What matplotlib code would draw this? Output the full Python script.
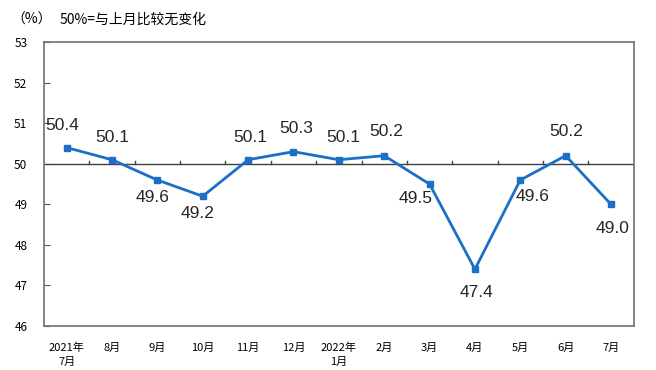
import matplotlib
matplotlib.use("Agg")
import matplotlib.pyplot as plt

plt.rcParams['font.family'] = ['Noto Sans CJK SC', 'DejaVu Sans']

categories = ["2021年\n7月", "8月", "9月", "10月", "11月", "12月", "2022年\n1月",
              "2月", "3月", "4月", "5月", "6月", "7月"]
values = [50.4, 50.1, 49.6, 49.2, 50.1, 50.3, 50.1, 50.2, 49.5, 47.4, 49.6, 50.2, 49.0]
label_offsets = [(-4, 22), (0, 22), (-5, -17), (-5, -17), (2, 22), (3, 23), (4, 22),
                 (2, 24), (-14, -14), (2, -23), (12, -16), (1, 24), (2, -24)]

fig = plt.figure(figsize=(6.56, 3.70), dpi=100)
ax = fig.add_axes([0.067, 0.119, 0.899, 0.767])

color = '#1a6fc6'
x = list(range(len(values)))
ax.plot(x, values, color=color, lw=2, marker='s', ms=5, zorder=3)
ax.axhline(50, color='#404040', lw=1, zorder=2)

for xi, v, (dx, dy) in zip(x, values, label_offsets):
    ax.annotate(f"{v:.1f}", (xi, v), xytext=(dx, dy), textcoords='offset pixels',
                ha='center', va='center', fontsize=12.5, color='#262626',
                family=['Liberation Sans', 'DejaVu Sans'])

# tick marks on the 50 line at category boundaries
for b in range(len(values) - 1):
    ax.plot([b + 0.5, b + 0.5], [50, 50.08], color='#404040', lw=1, zorder=2)

ax.set_xlim(-0.5, len(values) - 0.5)
ax.set_ylim(46, 53)
ax.set_yticks(range(46, 54))
ax.set_xticks(x)
ax.set_xticklabels(categories, fontsize=8, linespacing=1.5)
ax.tick_params(axis='x', length=0, pad=12)
ax.tick_params(axis='y', direction='in', length=4, labelsize=8.5, pad=12, color='#555555')
for lab in ax.get_xticklabels():
    lab.set_verticalalignment('top')

for s in ax.spines.values():
    s.set_color('#707070')
    s.set_linewidth(1.2)

fig.text(0.018, 0.948, "（%）", fontsize=10, ha='left', va='center')
fig.text(0.091, 0.948, "50%=与上月比较无变化", fontsize=10, ha='left', va='center')

fig.savefig("out.png", dpi=100)
